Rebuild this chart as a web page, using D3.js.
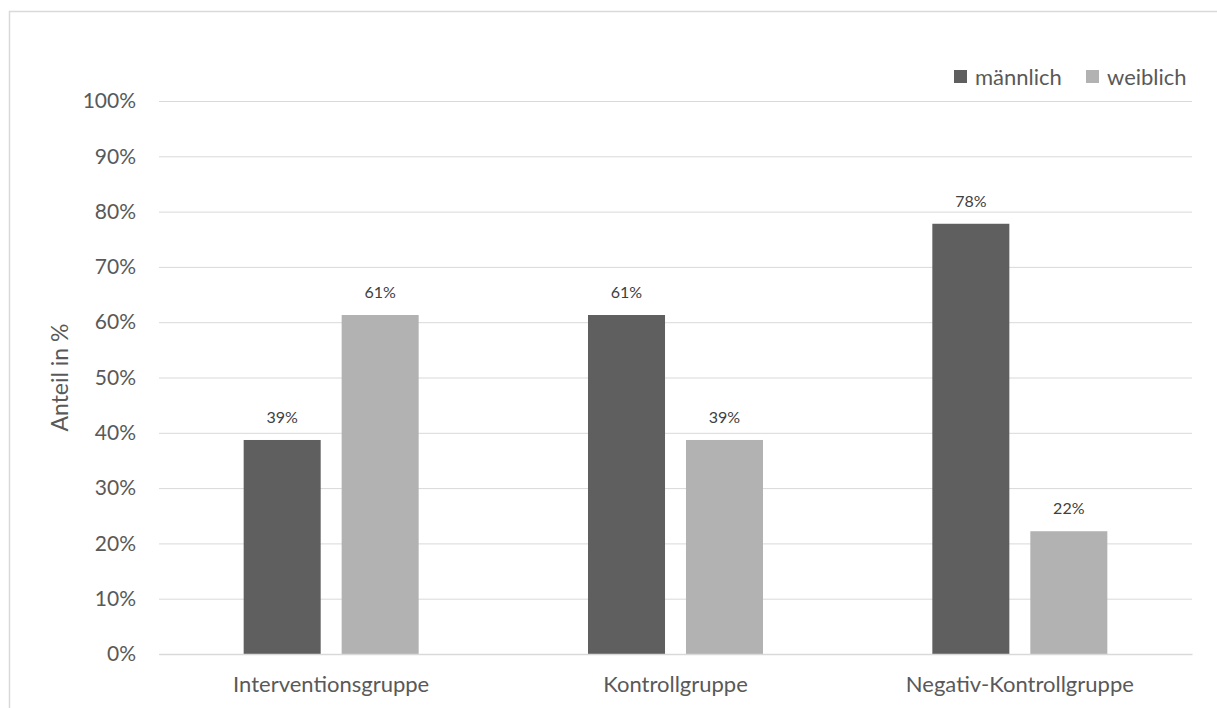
<!DOCTYPE html>
<html>
<head>
<meta charset="utf-8">
<script src="https://cdn.jsdelivr.net/npm/d3@7"></script>
<style>
  html, body { margin: 0; padding: 0; background: #fff; }
  svg { display: block; font-family: Lato, "Open Sans", sans-serif; }
</style>
</head>
<body>
<svg id="chart" width="1217" height="708"></svg>
<script>
// Gender split per study group (share of participants)
const categories = ["Interventionsgruppe", "Kontrollgruppe", "Negativ-Kontrollgruppe"];
const seriesNames = ["männlich", "weiblich"];
const maleValues = [0.387, 0.613, 0.778];
const femaleValues = [0.613, 0.387, 0.222];
const yTicks = [0, 0.1, 0.2, 0.3, 0.4, 0.5, 0.6, 0.7, 0.8, 0.9, 1.0];
const seriesColors = ["#5f5f5f", "#b2b2b2"];

const rows = categories.map((c, i) => ({
  category: c,
  values: [maleValues[i], femaleValues[i]]
}));

const svg = d3.select("#chart");
const plot = { left: 159, right: 1192, top: 101, bottom: 654 };

// Chart frame
svg.append("rect")
  .attr("x", 9.5).attr("y", 11.5)
  .attr("width", 1230).attr("height", 720)
  .attr("fill", "none").attr("stroke", "#d9d9d9").attr("stroke-width", 1.5);

const x0 = d3.scaleBand().domain(categories).range([plot.left, plot.right]).padding(0);
const x1 = d3.scaleBand().domain(d3.range(seriesNames.length))
  .range([0, x0.bandwidth()]).paddingInner(0.214).paddingOuter(0.864);
const y = d3.scaleLinear().domain([0, 1]).range([plot.bottom, plot.top]);

// Gridlines and y tick labels
const yAxis = d3.axisLeft(y).tickValues(yTicks).tickFormat(d3.format(".0%"))
  .tickSize(-(plot.right - plot.left)).tickPadding(23);
const gy = svg.append("g").attr("transform", `translate(${plot.left},0)`).call(yAxis);
gy.select(".domain").remove();
gy.selectAll(".tick line").attr("stroke", "#d9d9d9").attr("stroke-width", 1);
gy.selectAll(".tick text")
  .attr("fill", "#595959").attr("font-size", 21)
  .attr("font-family", "Lato, 'Open Sans', sans-serif");

// Bars
const groups = svg.append("g").selectAll("g").data(rows).join("g")
  .attr("transform", d => `translate(${x0(d.category)},0)`);

groups.selectAll("rect").data(d => d.values.map((v, i) => ({ v, i }))).join("rect")
  .attr("x", d => x1(d.i))
  .attr("width", x1.bandwidth())
  .attr("y", d => y(d.v))
  .attr("height", d => y(0) - y(d.v))
  .attr("fill", d => seriesColors[d.i]);

// Value labels
groups.selectAll("text").data(d => d.values.map((v, i) => ({ v, i }))).join("text")
  .attr("x", d => x1(d.i) + x1.bandwidth() / 2)
  .attr("y", d => y(d.v) - 17)
  .attr("text-anchor", "middle")
  .attr("fill", "#404040").attr("font-size", 16)
  .text(d => d3.format(".0%")(d.v));

// Baseline (x axis) with category labels
const xAxis = d3.axisBottom(x0).tickSize(0).tickPadding(22);
const gx = svg.append("g").attr("transform", `translate(0,${plot.bottom})`).call(xAxis);
gx.select(".domain").attr("stroke", "#d9d9d9").attr("stroke-width", 1.5);
gx.selectAll(".tick text")
  .attr("fill", "#595959").attr("font-size", 22)
  .attr("font-family", "Lato, 'Open Sans', sans-serif");

// Y axis title
svg.append("text")
  .attr("transform", `translate(68,${(plot.top + plot.bottom) / 2}) rotate(-90)`)
  .attr("text-anchor", "middle")
  .attr("fill", "#595959").attr("font-size", 23)
  .text("Anteil in %");

// Legend
const legendX = [954, 1086];
const legend = svg.append("g").selectAll("g").data(seriesNames).join("g")
  .attr("transform", (d, i) => `translate(${legendX[i]},70)`);
legend.append("rect").attr("width", 13).attr("height", 13)
  .attr("fill", (d, i) => seriesColors[i]);
legend.append("text").attr("x", 21).attr("y", 7).attr("dy", "0.35em")
  .attr("fill", "#595959").attr("font-size", 22).text(d => d);
</script>
</body>
</html>
